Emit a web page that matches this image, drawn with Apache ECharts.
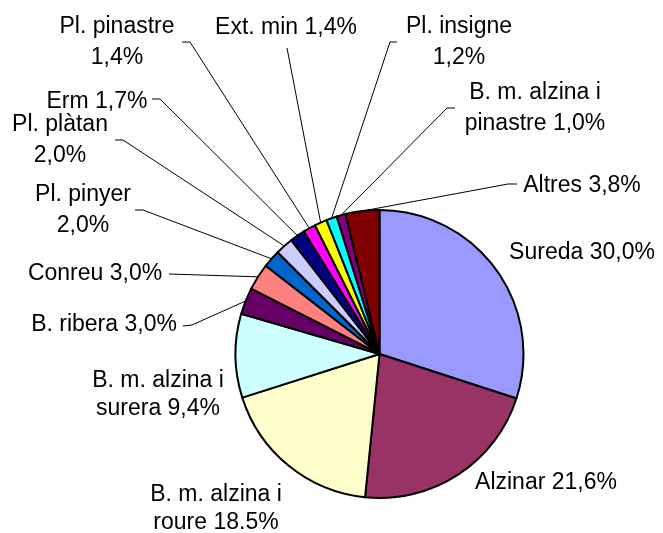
<!DOCTYPE html>
<html>
<head>
<meta charset="utf-8">
<script src="https://cdn.jsdelivr.net/npm/echarts@6/dist/echarts.min.js"></script>
<style>
  html, body { margin: 0; padding: 0; background: #fff; }
  #chart { width: 663px; height: 533px; }
</style>
</head>
<body>
<div id="chart"></div>
<script>
// dades del gràfic (ordre horari des de les 12)
const categories = [
  'Sureda', 'Alzinar', 'B. m. alzina i roure', 'B. m. alzina i surera',
  'B. ribera', 'Conreu', 'Pl. pinyer', 'Pl. plàtan', 'Erm',
  'Pl. pinastre', 'Ext. min', 'Pl. insigne', 'B. m. alzina i pinastre', 'Altres'
];
const values = [30.0, 21.6, 18.5, 9.4, 3.0, 3.0, 2.0, 2.0, 1.7, 1.4, 1.4, 1.2, 1.0, 3.8];
const pctLabels = [
  '30,0%', '21,6%', '18.5%', '9,4%', '3,0%', '3,0%', '2,0%', '2,0%', '1,7%',
  '1,4%', '1,4%', '1,2%', '1,0%', '3,8%'
];
const sliceColors = [
  '#9999FF', '#993366', '#FFFFCC', '#CCFFFF', '#660066', '#FF8080', '#0066CC',
  '#CCCCFF', '#000080', '#FF00FF', '#FFFF00', '#00FFFF', '#800080', '#800000'
];

// posició de les etiquetes (centre del bloc de text) i punts de la línia guia
// brk: 'v' = salt abans del percentatge, número = salt dins del nom
const labelPos = [
  { x: 582, y: 253 },
  { x: 546, y: 483 },
  { x: 216, y: 509, brk: 14, lh: 28 },
  { x: 158, y: 395, brk: 14, lh: 28 },
  { x: 104, y: 325, end: [183, 326], stub: [192, 325] },
  { x: 95,  y: 274, end: [169, 274] },
  { x: 83,  y: 210, brk: 'v', end: [135, 210], stub: [143, 210] },
  { x: 60,  y: 140, brk: 'v', end: [115, 140], stub: [123, 140] },
  { x: 97,  y: 102, end: [152, 99], stub: [160, 99] },
  { x: 117, y: 42,  brk: 'v', end: [182, 42], stub: [190, 42] },
  { x: 286, y: 28,  end: [287, 48] },
  { x: 459, y: 42,  brk: 'v', end: [397, 42], stub: [390, 42] },
  { x: 535, y: 108, brk: 14, end: [455, 108], stub: [447, 108] },
  { x: 582, y: 186, end: [517, 184], stub: [508, 184] }
];

function labelText(i) {
  const name = categories[i];
  const p = labelPos[i];
  if (p.brk === 'v') return name + '\n' + pctLabels[i];
  if (typeof p.brk === 'number') {
    return name.slice(0, p.brk) + '\n' + name.slice(p.brk + 1) + ' ' + pctLabels[i];
  }
  return name + ' ' + pctLabels[i];
}

const chart = echarts.init(document.getElementById('chart'));

const option = {
  backgroundColor: '#fff',
  animation: false,
  series: [{
    type: 'pie',
    center: [379.5, 354],
    radius: 144,
    startAngle: 90,
    clockwise: true,
    avoidLabelOverlap: false,
    silent: true,
    itemStyle: { borderColor: '#000', borderWidth: 2 },
    label: {
      show: true,
      position: 'outside',
      color: '#000',
      fontFamily: 'Liberation Sans, Arial, sans-serif',
      fontSize: 23,
      lineHeight: 31,
      formatter: (params) => labelText(params.dataIndex)
    },
    labelLine: {
      show: true,
      smooth: false,
      lineStyle: { color: '#000', width: 1 }
    },
    labelLayout: (params) => {
      const p = labelPos[params.dataIndex];
      const res = { x: p.x, y: p.y, align: 'center', verticalAlign: 'middle' };
      if (p.end && params.labelLinePoints) {
        const start = params.labelLinePoints[0];
        res.labelLinePoints = p.stub ? [start, p.stub, p.end] : [start, p.end];
      }
      return res;
    },
    data: categories.map((name, i) => ({
      name: name,
      value: values[i],
      itemStyle: { color: sliceColors[i] },
      label: labelPos[i].lh ? { lineHeight: labelPos[i].lh } : undefined,
      labelLine: { show: !!labelPos[i].end }
    }))
  }]
};

chart.setOption(option);
</script>
</body>
</html>
